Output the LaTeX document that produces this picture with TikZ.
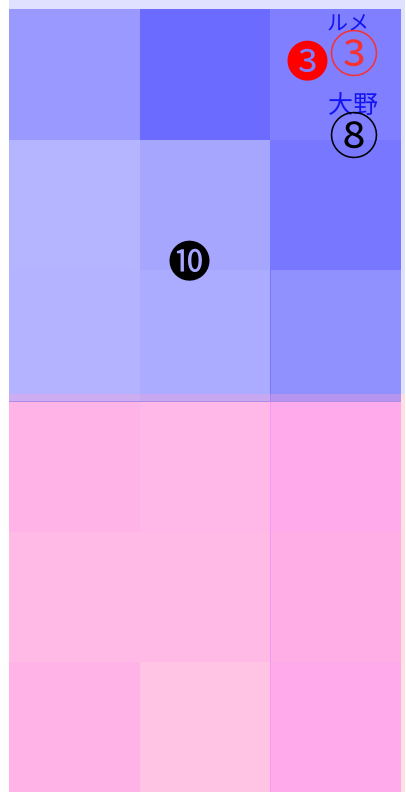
\documentclass[tikz,border=0pt]{standalone}
\usepackage{fontspec}
\newfontfamily\cjk{Noto Sans CJK JP}
\definecolor{lavbg}{RGB}{224,224,255}
\definecolor{pinkbg}{RGB}{255,224,226}
\definecolor{bA}{RGB}{153,153,255}
\definecolor{bB}{RGB}{107,107,255}
\definecolor{bC}{RGB}{127,127,255}
\definecolor{bD}{RGB}{180,180,255}
\definecolor{bE}{RGB}{166,166,255}
\definecolor{bF}{RGB}{119,119,255}
\definecolor{bG}{RGB}{179,179,255}
\definecolor{bH}{RGB}{171,171,255}
\definecolor{bI}{RGB}{144,144,255}
\definecolor{pA}{RGB}{255,179,230}
\definecolor{pB}{RGB}{255,184,232}
\definecolor{pC}{RGB}{255,170,235}
\definecolor{pD}{RGB}{255,187,230}
\definecolor{pE}{RGB}{255,187,230}
\definecolor{pF}{RGB}{255,174,230}
\definecolor{pG}{RGB}{255,179,230}
\definecolor{pH}{RGB}{255,196,228}
\definecolor{pI}{RGB}{255,170,235}
\definecolor{txtblue}{RGB}{20,20,240}
\definecolor{txtred}{RGB}{245,50,50}
\tikzset{
  lbl/.style={inner sep=0pt, font=\cjk},
}
\begin{document}
\begin{tikzpicture}[x=1pt,y=-1pt]
\useasboundingbox (0,0) rectangle (405,792);
% backgrounds
\fill[lavbg] (9,0) rectangle (405,394);
\fill[pinkbg] (9,394) rectangle (405,792);
% pink grid
\fill[pA] (9,401) rectangle (139.67,531.67);
\fill[pB] (139.67,401) rectangle (270.33,531.67);
\fill[pC] (270.33,401) rectangle (401,531.67);
\fill[pD] (9,531.67) rectangle (139.67,662.33);
\fill[pE] (139.67,531.67) rectangle (270.33,662.33);
\fill[pF] (270.33,531.67) rectangle (401,662.33);
\fill[pG] (9,662.33) rectangle (139.67,793);
\fill[pH] (139.67,662.33) rectangle (270.33,793);
\fill[pI] (270.33,662.33) rectangle (401,793);
\draw[line width=0.6pt, color={rgb,255:red,245;green,150;blue,240}] (270.33,401) -- (270.33,792);
% blue grid
\fill[bA] (9,9) rectangle (139.67,139.67);
\fill[bB] (139.67,9) rectangle (270.33,139.67);
\fill[bC] (270.33,9) rectangle (401,139.67);
\fill[bD] (9,139.67) rectangle (139.67,270.33);
\fill[bE] (139.67,139.67) rectangle (270.33,270.33);
\fill[bF] (270.33,139.67) rectangle (401,270.33);
\fill[bG] (9,270.33) rectangle (139.67,401);
\fill[bH] (139.67,270.33) rectangle (270.33,401);
\fill[bI] (270.33,270.33) rectangle (401,401);
\draw[line width=0.6pt, color={rgb,255:red,120;green,120;blue,250}] (270.33,270.33) -- (270.33,401);
% overlap strip
\fill[color={rgb,255:red,255;green,160;blue,215}, opacity=0.35] (9,394) rectangle (401,401);
\draw[line width=0.4pt, color={rgb,255:red,170;green,140;blue,230}] (9,401) -- (401,401);
% labels
\node[lbl, text=txtblue, font=\cjk\fontsize{21}{21}\selectfont] (lume) at (348,23) {ルメ};
\node[lbl, text=txtred, font=\cjk\fontsize{50}{50}\selectfont] (c3) at (354.5,54) {③};
\node[lbl, text=red, font=\cjk\fontsize{43}{43}\selectfont] (n3) at (307.5,61.5) {❸};
\node[lbl, text=txtblue, font=\cjk\fontsize{25}{25}\selectfont] (ono) at (353,104) {大野};
\node[lbl, text=black, font=\cjk\fontsize{50}{50}\selectfont] (c8) at (354,135) {⑧};
\node[lbl, text=black, font=\cjk\fontsize{43}{43}\selectfont] (n10) at (189.5,261) {❿};
\end{tikzpicture}
\end{document}
